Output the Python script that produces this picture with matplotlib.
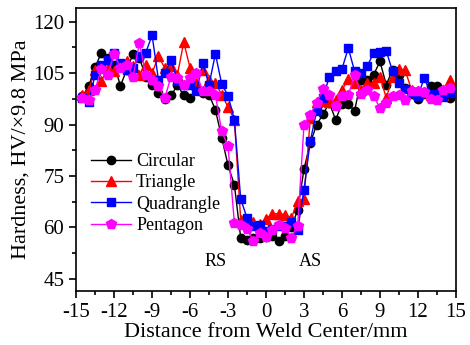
import numpy as np
import matplotlib
matplotlib.use('Agg')
import matplotlib.pyplot as plt
from matplotlib.ticker import MultipleLocator

plt.rcParams['font.family'] = ['Liberation Serif', 'DejaVu Serif']
plt.rcParams['axes.unicode_minus'] = False
plt.rcParams['mathtext.fontset'] = 'stix'

# Distance from weld center, mm (0.5 mm step)
distance = np.linspace(-14.5, 14.5, 59)

circular = [98.2, 101.3, 106.7, 111.0, 109.4, 107.5, 101.3, 106.0, 110.6, 109.4,
            104.0, 101.6, 99.2, 97.5, 98.5, 101.4, 98.5, 97.7, 100.3, 99.2,
            98.7, 94.3, 86.2, 78.1, 72.4, 57.0, 56.2, 56.9, 57.0, 57.3,
            57.5, 55.9, 57.5, 60.1, 65.0, 77.0, 84.7, 89.9, 93.0, 96.3,
            91.4, 96.0, 96.0, 94.0, 103.1, 103.0, 104.5, 108.4, 101.6, 106.0,
            104.5, 100.6, 99.0, 97.4, 99.0, 101.1, 101.1, 98.5, 97.7]

triangle = [98.7, 100.2, 106.0, 102.6, 106.5, 105.5, 107.7, 108.4, 107.0, 104.5,
            107.4, 105.0, 109.9, 106.5, 107.0, 104.5, 114.0, 106.5, 102.1, 106.0,
            103.0, 102.1, 98.7, 95.1, 91.4, 62.2, 61.5, 61.7, 61.0, 62.5,
            64.0, 64.0, 63.7, 62.7, 67.6, 68.3, 91.9, 96.7, 97.0, 96.7,
            97.2, 100.0, 103.4, 102.1, 100.0, 102.0, 102.1, 104.0, 97.7, 104.0,
            106.3, 105.8, 100.0, 99.0, 99.5, 98.5, 98.8, 98.5, 103.1]

quadrangle = [97.7, 96.7, 104.5, 107.4, 108.9, 111.0, 107.9, 106.0, 106.5, 110.0,
              111.0, 116.0, 103.1, 105.0, 108.9, 102.6, 101.6, 101.4, 99.7, 107.9,
              101.6, 110.6, 101.8, 98.4, 91.4, 68.3, 62.7, 60.5, 60.8, 59.0,
              59.5, 60.3, 60.5, 61.7, 59.3, 71.0, 85.3, 93.8, 97.7, 104.0,
              105.5, 106.2, 112.3, 105.5, 105.0, 107.0, 110.9, 111.2, 111.4, 105.5,
              102.1, 100.4, 99.5, 98.2, 103.7, 99.0, 99.0, 98.0, 99.2]

pentagon = [97.7, 97.2, 100.2, 106.3, 104.5, 110.6, 106.5, 107.4, 104.0, 113.8,
            104.3, 103.1, 101.1, 97.7, 104.0, 103.6, 101.6, 103.6, 105.0, 99.7,
            99.7, 98.7, 88.0, 83.7, 61.3, 60.8, 59.5, 56.0, 58.5, 57.3,
            59.3, 60.8, 59.8, 57.0, 60.5, 89.9, 92.9, 96.3, 100.4, 98.7,
            95.3, 98.2, 98.5, 104.5, 99.0, 100.0, 98.4, 94.8, 96.3, 98.2,
            98.7, 97.2, 99.7, 99.7, 99.4, 97.4, 97.2, 100.2, 100.6]

fig = plt.figure(figsize=(4.7, 3.45), dpi=100)
ax = fig.add_axes([0.162, 0.157, 0.808, 0.82])

ax.plot(distance, circular, color='black', marker='o', markersize=6, linewidth=1, label='Circular')
ax.plot(distance, triangle, color='red', marker='^', markersize=7, linewidth=1, label='Triangle')
ax.plot(distance, quadrangle, color='blue', marker='s', markersize=6, linewidth=1, label='Quadrangle')
ax.plot(distance, pentagon, color='magenta', marker='p', markersize=7.5, linewidth=1, label='Pentagon')

ax.set_xlim(-15, 15)
ax.set_ylim(41.5, 124)
ax.xaxis.set_major_locator(MultipleLocator(3))
ax.xaxis.set_minor_locator(MultipleLocator(1.5))
ax.yaxis.set_major_locator(MultipleLocator(15))
ax.yaxis.set_minor_locator(MultipleLocator(7.5))
ax.tick_params(which='both', direction='out', top=False, right=False, labelsize=15, width=1.2)
ax.tick_params(which='major', length=5)
ax.tick_params(which='minor', length=3)
for s in ax.spines.values():
    s.set_linewidth(1.2)

ax.set_xlabel('Distance from Weld Center/mm', fontsize=16, labelpad=1)
ax.set_ylabel('Hardness, HV/×9.8 MPa', fontsize=16, labelpad=2)

ax.text(-4.0, 50, 'RS', fontsize=13, ha='center', va='center')
ax.text(3.5, 50, 'AS', fontsize=13, ha='center', va='center')

ax.legend(loc='lower left', bbox_to_anchor=(0.02, 0.175), frameon=False, fontsize=13,
          handlelength=2.2, labelspacing=0.24, handletextpad=0.3, borderaxespad=0)

fig.savefig('out.png', dpi=100)
